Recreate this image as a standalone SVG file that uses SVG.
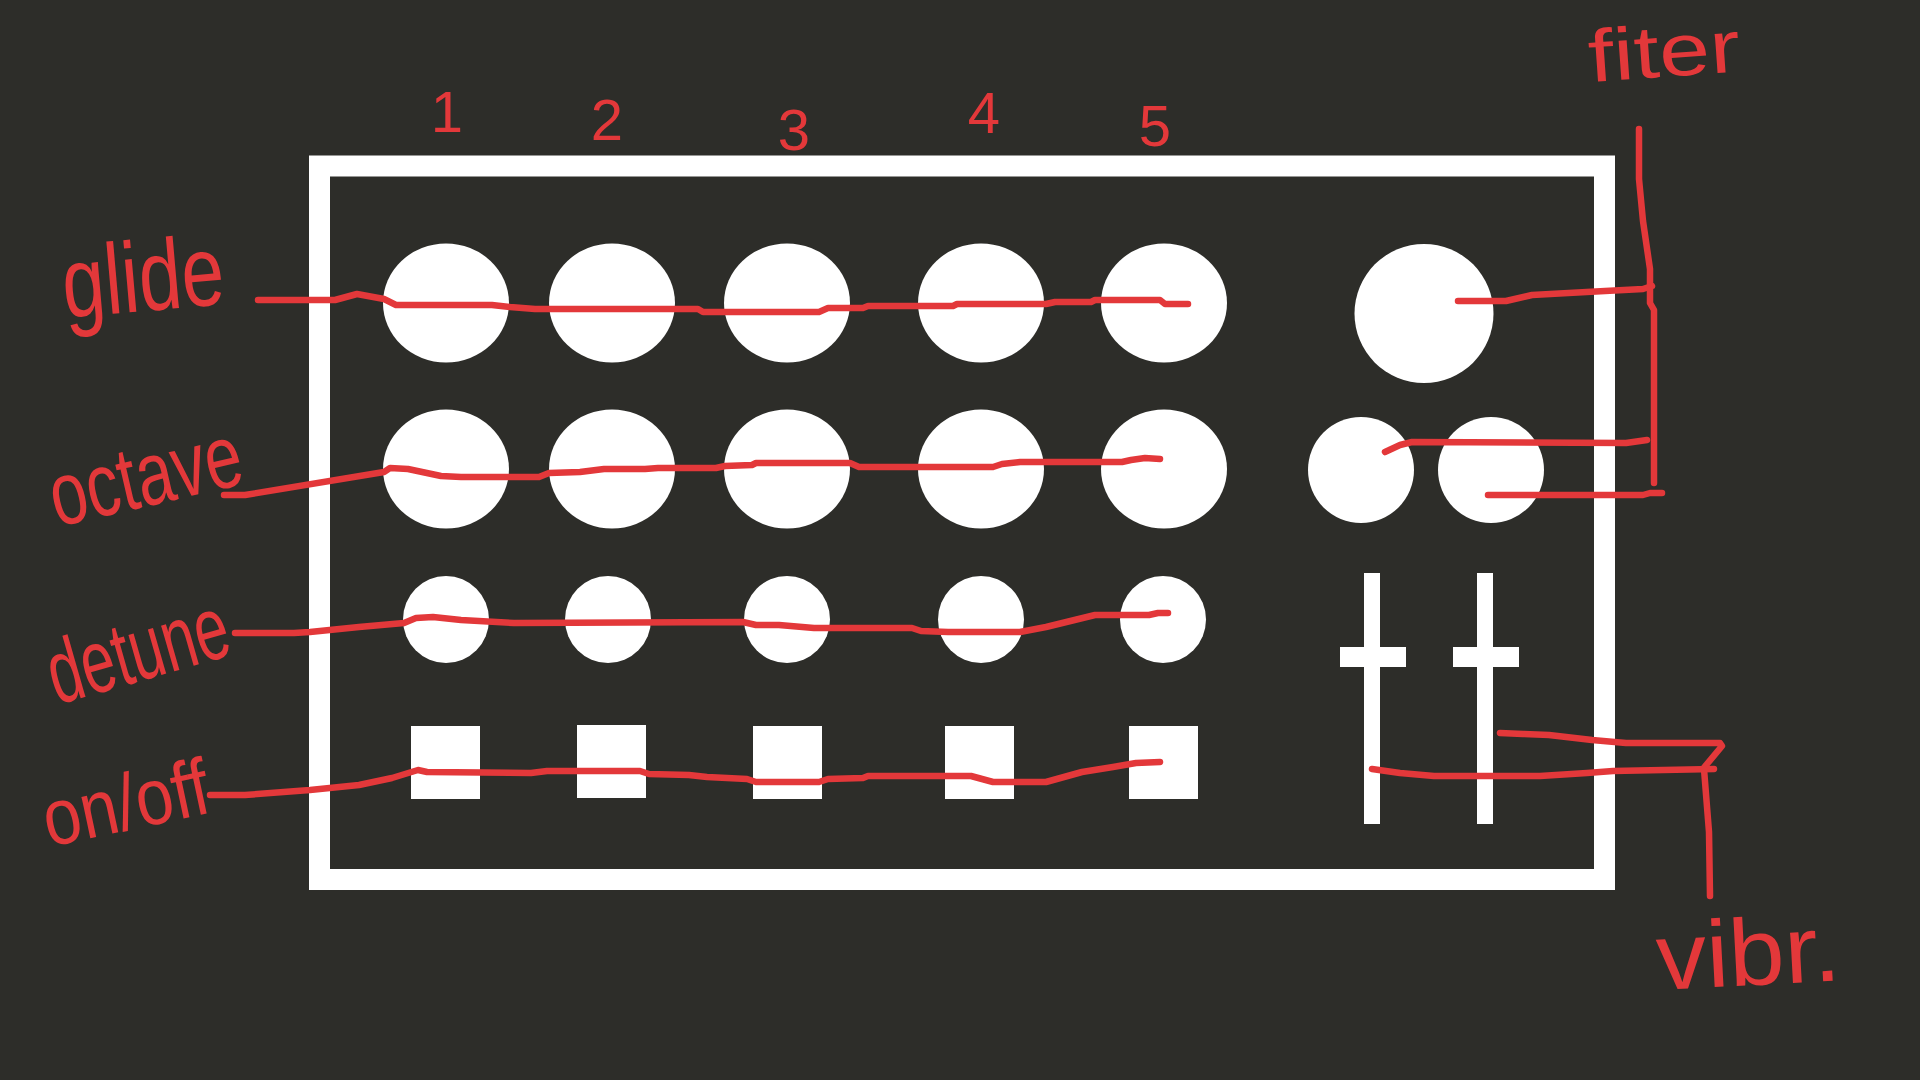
<svg xmlns="http://www.w3.org/2000/svg" width="1920" height="1080" viewBox="0 0 1920 1080">
<style>
.bg{fill:#2d2d29}
.w{fill:#ffffff}
.frame{fill:none;stroke:#ffffff;stroke-width:21}
.wire{fill:none;stroke:#e3383a;stroke-width:6.5;stroke-linecap:round;stroke-linejoin:round}
.hand{fill:#e3383a;font-family:"Liberation Sans","DejaVu Sans",sans-serif}
.num{fill:#e3383a;font-family:"Liberation Sans","DejaVu Sans",sans-serif;font-size:58px;text-anchor:middle}
</style>
<rect class="bg" x="0" y="0" width="1920" height="1080"/>
<g id="panel"><rect class="frame" x="319.5" y="166" width="1285" height="713.5"/></g>

<g id="glide-knobs">
<g id="glide-1"><ellipse class="w" cx="446" cy="303" rx="63" ry="59.5"/></g>
<g id="glide-2"><ellipse class="w" cx="612" cy="303" rx="63" ry="59.5"/></g>
<g id="glide-3"><ellipse class="w" cx="787" cy="303" rx="63" ry="59.5"/></g>
<g id="glide-4"><ellipse class="w" cx="981" cy="303" rx="63" ry="59.5"/></g>
<g id="glide-5"><ellipse class="w" cx="1164" cy="303" rx="63" ry="59.5"/></g>
</g>
<g id="octave-knobs">
<g id="octave-1"><ellipse class="w" cx="446" cy="469" rx="63" ry="59.5"/></g>
<g id="octave-2"><ellipse class="w" cx="612" cy="469" rx="63" ry="59.5"/></g>
<g id="octave-3"><ellipse class="w" cx="787" cy="469" rx="63" ry="59.5"/></g>
<g id="octave-4"><ellipse class="w" cx="981" cy="469" rx="63" ry="59.5"/></g>
<g id="octave-5"><ellipse class="w" cx="1164" cy="469" rx="63" ry="59.5"/></g>
</g>
<g id="detune-knobs">
<g id="detune-1"><ellipse class="w" cx="446" cy="619.5" rx="43" ry="43.5"/></g>
<g id="detune-2"><ellipse class="w" cx="608" cy="619.5" rx="43" ry="43.5"/></g>
<g id="detune-3"><ellipse class="w" cx="787" cy="619.5" rx="43" ry="43.5"/></g>
<g id="detune-4"><ellipse class="w" cx="981" cy="619.5" rx="43" ry="43.5"/></g>
<g id="detune-5"><ellipse class="w" cx="1163" cy="619.5" rx="43" ry="43.5"/></g>
</g>
<g id="onoff-buttons">
<g id="onoff-1"><rect class="w" x="411" y="726" width="69" height="73"/></g>
<g id="onoff-2"><rect class="w" x="577" y="725" width="69" height="73"/></g>
<g id="onoff-3"><rect class="w" x="753" y="726" width="69" height="73"/></g>
<g id="onoff-4"><rect class="w" x="945" y="726" width="69" height="73"/></g>
<g id="onoff-5"><rect class="w" x="1129" y="726" width="69" height="73"/></g>
</g>
<g id="filter-knobs">
<g id="filter-1"><ellipse class="w" cx="1424" cy="313.5" rx="69.5" ry="69.5"/></g>
<g id="filter-2"><ellipse class="w" cx="1361" cy="470" rx="53" ry="53"/></g>
<g id="filter-3"><ellipse class="w" cx="1491" cy="470" rx="53" ry="53"/></g>
</g>
<g id="vibrato-sliders">
<g id="slider-1"><rect class="w" x="1364" y="573" width="16" height="251"/><rect class="w" x="1340" y="647" width="66" height="20"/></g>
<g id="slider-2"><rect class="w" x="1477" y="573" width="16" height="251"/><rect class="w" x="1453" y="647" width="66" height="20"/></g>
</g>

<g id="connectors">
<polyline class="wire" points="258,300 335,300 357,294 384,299 396,305 492,305 510,307 535,309 698,309 703,312 819,312 828,308 863,308 868,306 953,306 957,304 1046,304 1055,302 1091,302 1095,300 1160,300 1165,304 1188,304"/>
<polyline class="wire" points="224,495 245,495 384,472 390,468 408,469 441,476 461,477 539,477 549,473 580,472 604,469 645,469 658,468 716,468 725,466 752,465 756,463 850,463 859,467 993,467 1002,464 1020,462 1122,462 1131,460 1145,458 1160,459"/>
<polyline class="wire" points="235,633 294,633 310,632 359,627 404,623 416,618 433,617 461,620 514,623 743,622 756,625 779,625 814,628 912,628 921,631 948,632 1020,632 1046,627 1095,615 1149,615 1158,613 1168,613"/>
<polyline class="wire" points="210,795 245,795 310,790 359,785 392,778 418,770 427,772 531,773 547,771 640,771 649,774 689,775 707,777 747,779 756,782 819,782 828,779 863,778 868,776 971,776 993,782 1046,782 1082,772 1113,767 1136,763 1160,762"/>
<polyline class="wire" points="1639,129 1639,179 1643,221 1650,269 1650,303 1654,310 1654,483"/>
<polyline class="wire" points="1458,301 1506,301 1532,295 1605,291 1643,289 1652,286"/>
<polyline class="wire" points="1385,452 1400,445 1412,442 1626,443 1647,440"/>
<polyline class="wire" points="1488,495 1643,495 1650,493 1662,493"/>
<polyline class="wire" points="1500,733 1523,734 1549,735 1592,740 1626,743 1720,743 1722,746 1707,764 1703,769"/>
<polyline class="wire" points="1372,769 1400,773 1434,776 1540,776 1587,773 1613,771 1714,769"/>
<polyline class="wire" points="1704,769 1709,832 1710,896"/>
</g>

<g id="labels">
<text class="num" x="447" y="132">1</text>
<text class="num" x="607" y="140">2</text>
<text class="num" x="794" y="150">3</text>
<text class="num" x="984" y="133">4</text>
<text class="num" x="1155" y="146">5</text>
<text class="hand" x="65" y="318" font-size="100" textLength="162" lengthAdjust="spacingAndGlyphs" transform="rotate(-5 65 318)">glide</text>
<text class="hand" x="57" y="527" font-size="90" textLength="195" lengthAdjust="spacingAndGlyphs" transform="rotate(-13 57 527)">octave</text>
<text class="hand" x="57" y="705" font-size="90" textLength="185" lengthAdjust="spacingAndGlyphs" transform="rotate(-16 57 705)">detune</text>
<text class="hand" x="49" y="847" font-size="80" textLength="168" lengthAdjust="spacingAndGlyphs" transform="rotate(-12 49 847)">on/off</text>
<text class="hand" x="1590" y="82" font-size="74" textLength="152" lengthAdjust="spacingAndGlyphs" transform="rotate(-4 1590 82)">fiter</text>
<text class="hand" x="1658" y="990" font-size="95" textLength="184" lengthAdjust="spacingAndGlyphs" transform="rotate(-3 1658 990)">vibr.</text>
</g>
</svg>
